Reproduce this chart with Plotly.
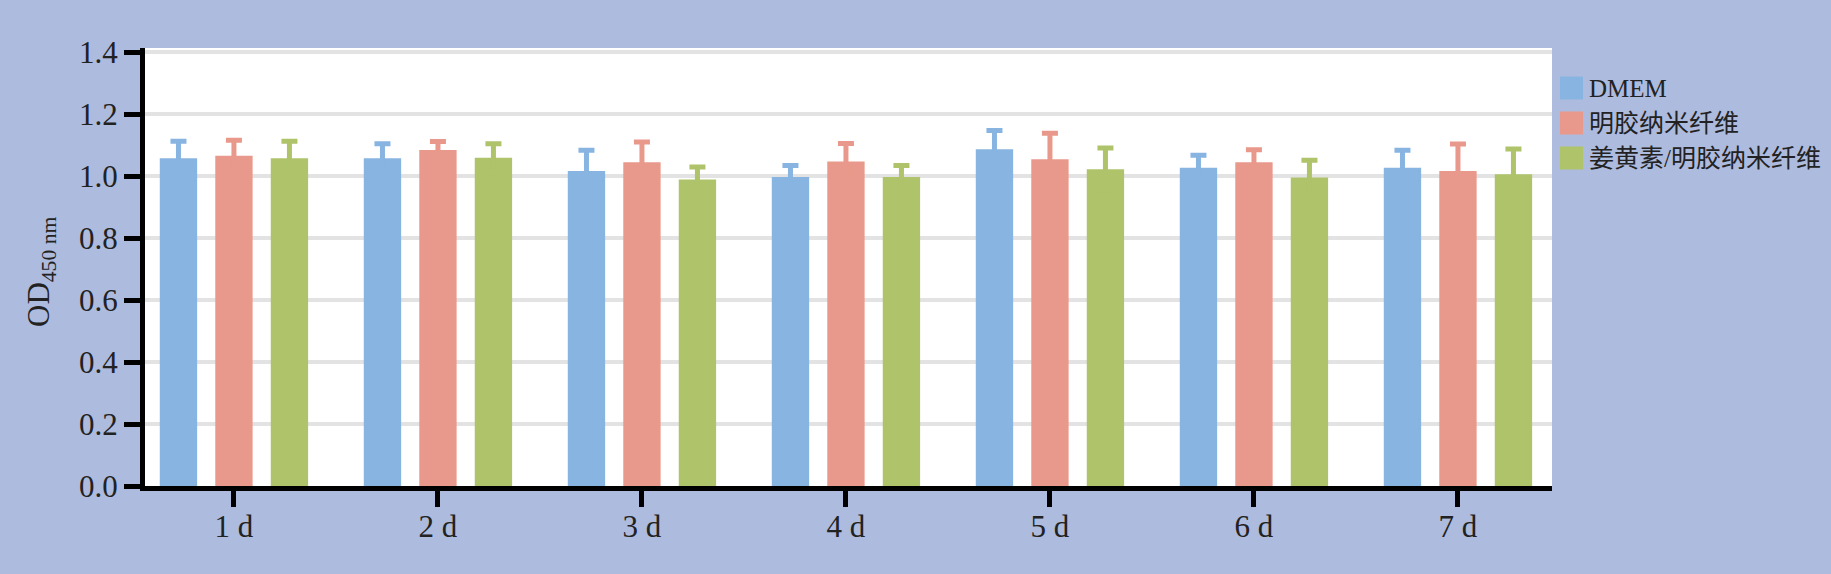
import plotly.graph_objects as go

categories = ["1 d", "2 d", "3 d", "4 d", "5 d", "6 d", "7 d"]
series_names = ["DMEM", "明胶纳米纤维", "姜黄素/明胶纳米纤维"]
dmem = [1.057, 1.057, 1.016, 0.997, 1.086, 1.027, 1.027]
dmem_err = [0.055, 0.047, 0.067, 0.037, 0.061, 0.040, 0.056]
gel = [1.065, 1.084, 1.044, 1.047, 1.054, 1.044, 1.016]
gel_err = [0.050, 0.027, 0.066, 0.058, 0.084, 0.041, 0.087]
cur = [1.057, 1.059, 0.989, 0.997, 1.022, 0.995, 1.006]
cur_err = [0.055, 0.045, 0.040, 0.037, 0.068, 0.056, 0.081]
y_ticks = [0.0, 0.2, 0.4, 0.6, 0.8, 1.0, 1.2, 1.4]

colors = ["#88b4e1", "#e9998b", "#aec36a"]
values = [dmem, gel, cur]
errors = [dmem_err, gel_err, cur_err]

W, H = 1831, 574
L, R, T, B = 145, 279, 48, 88
PW, PH = W - L - R, H - T - B
BG = "#adbbde"
FONT = "Liberation Serif, 'Times New Roman', 'Noto Sans CJK SC', serif"

fig = go.Figure()
for name, v, e, c in zip(series_names, values, errors, colors):
    fig.add_trace(go.Bar(
        x=categories, y=v, name=name, marker=dict(color=c, line=dict(width=0)),
        error_y=dict(type="data", array=e, symmetric=True,
                     color=c, thickness=5, width=8),
        showlegend=False,
    ))

# custom legend (swatches + labels)
shapes = []
annotations = []
leg_x0 = 1560
sw = 23
for i, (name, c) in enumerate(zip(series_names, colors)):
    cy = 88 + 35 * i
    shapes.append(dict(type="rect", xref="paper", yref="paper",
                       x0=(leg_x0 - L) / PW, x1=(leg_x0 + sw - L) / PW,
                       y0=(H - B - (cy + sw / 2)) / PH, y1=(H - B - (cy - sw / 2)) / PH,
                       fillcolor=c, line=dict(width=0)))
    annotations.append(dict(xref="paper", yref="paper", x=(1587 - L) / PW,
                            y=(H - B - cy) / PH, xanchor="left", yanchor="middle",
                            text=name, showarrow=False,
                            font=dict(family=FONT, size=25, color="#222")))

annotations.append(dict(xref="paper", yref="paper", x=(41 - L) / PW, y=(H - B - 272) / PH,
                        xanchor="center", yanchor="middle", textangle=-90,
                        text="OD<sub>450 nm</sub>", showarrow=False,
                        font=dict(family=FONT, size=31, color="#222")))

fig.update_layout(
    width=W, height=H, autosize=False,
    margin=dict(l=L, r=R, t=T, b=B, pad=0),
    paper_bgcolor=BG, plot_bgcolor="white",
    barmode="group", bargap=0.184, bargroupgap=0.327,
    font=dict(family=FONT, size=31, color="#222"),
    shapes=shapes, annotations=annotations,
    xaxis=dict(range=[-0.436, 6.461], showline=True, linecolor="black", linewidth=5,
               ticks="outside", ticklen=16, tickwidth=5, tickcolor="black",
               ticklabelstandoff=-7,
               showgrid=False, tickfont=dict(size=31, family=FONT, color="#222")),
    yaxis=dict(range=[0, PH / 310], showline=True, linecolor="black", linewidth=5,
               ticks="outside", ticklen=16, tickwidth=5, tickcolor="black",
               tickvals=y_ticks, tickformat=".1f",
               showgrid=True, gridcolor="#e3e3e3", gridwidth=4, zeroline=False,
               tickfont=dict(size=31, family=FONT, color="#222")),
)

fig.write_html("out.html", config={"displayModeBar": False},
               post_script="document.body.style.margin='0';document.body.style.padding='0';document.body.style.overflow='hidden';")
